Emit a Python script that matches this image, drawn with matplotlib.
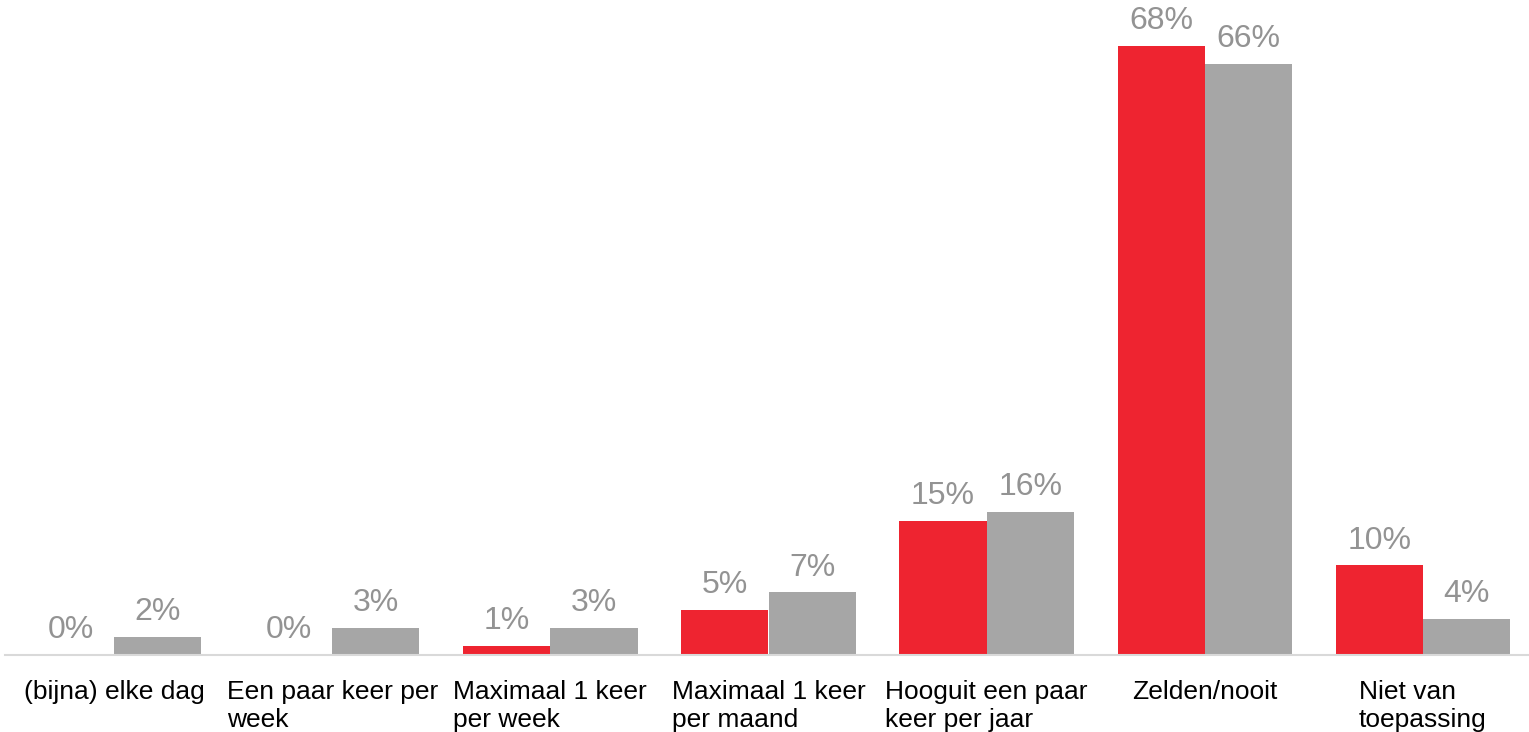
import numpy as np
import matplotlib.pyplot as plt

plt.rcParams['font.family'] = ['Liberation Sans', 'DejaVu Sans']

categories = ['(bijna) elke dag', 'Een paar keer per\nweek', 'Maximaal 1 keer\nper week',
              'Maximaal 1 keer\nper maand', 'Hooguit een paar\nkeer per jaar', 'Zelden/nooit',
              'Niet van\ntoepassing']
series_red = [0, 0, 1, 5, 15, 68, 10]
series_grey = [2, 3, 3, 7, 16, 66, 4]

red = '#EE2430'
grey = '#A6A6A6'
label_grey = '#939393'

fig = plt.figure(figsize=(15.29, 7.32), dpi=100)
ax = fig.add_axes([5 / 1529, 77 / 732, 1527 / 1529, 655 / 732])

x = np.arange(len(categories))
w = 0.4
bars_r = ax.bar(x - w / 2, series_red, w, color=red)
bars_g = ax.bar(x + w / 2, series_grey, w, color=grey)

# percentage labels above every bar
for bars, vals in ((bars_r, series_red), (bars_g, series_grey)):
    for b, v in zip(bars, vals):
        ax.annotate(f'{v}%', (b.get_x() + b.get_width() / 2, v),
                    xytext=(0, 7), textcoords='offset points',
                    ha='center', va='bottom', fontsize=23, color=label_grey)

ax.set_xlim(-0.5, len(categories) - 0.5)
ax.set_ylim(0, 73.1)
ax.set_yticks([])
ax.set_xticks(x)
ax.set_xticklabels(categories, fontsize=19, multialignment='left', linespacing=1.2)
ax.tick_params(axis='x', length=0, pad=18)
for s in ('top', 'left', 'right'):
    ax.spines[s].set_visible(False)
ax.spines['bottom'].set_color('#D9D9D9')
ax.spines['bottom'].set_linewidth(1.5)

fig.savefig('out.png', dpi=100)
